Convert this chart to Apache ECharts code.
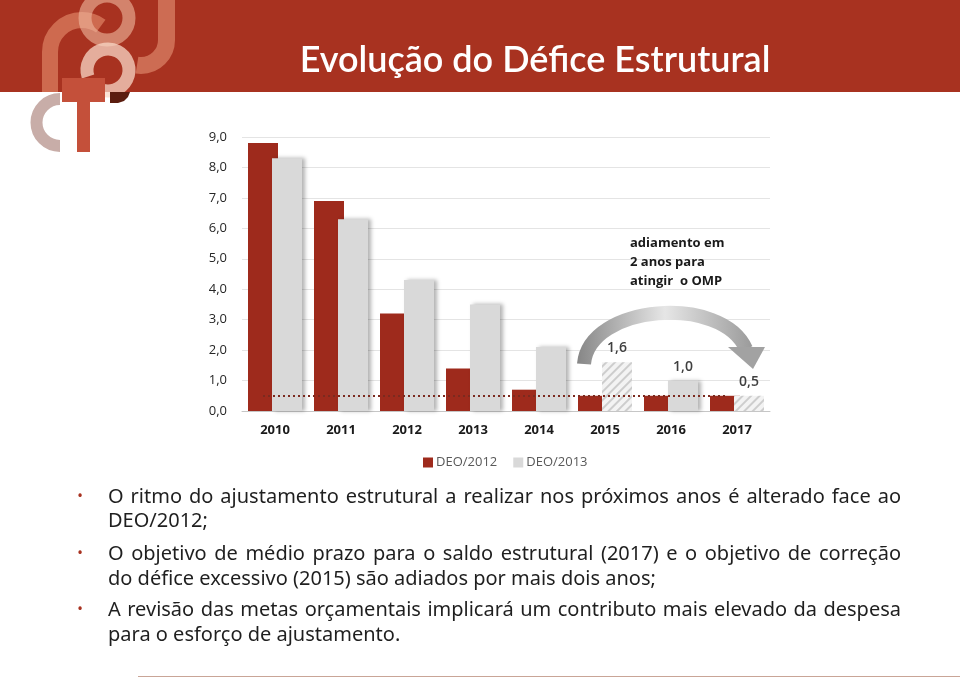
<!DOCTYPE html>
<html>
<head>
<meta charset="utf-8">
<script src="https://cdn.jsdelivr.net/npm/echarts@6/dist/echarts.min.js"></script>
<style>
html,body{margin:0;padding:0;background:#fff;}
#chart{width:960px;height:681px;}
</style>
</head>
<body>
<div id="chart"></div>
<script>
// ---- data ----
const categories = ['2010', '2011', '2012', '2013', '2014', '2015', '2016', '2017'];
const deo2012 = [8.8, 6.9, 3.2, 1.4, 0.7, 0.5, 0.5, 0.5];
const deo2013 = [8.3, 6.3, 4.3, 3.5, 2.1, 1.6, 1.0, 0.5];
const deo2013Projected = [false, false, false, false, false, true, false, true];
const deo2013Labeled = [false, false, false, false, false, true, true, true];
const ompTarget = 0.5;
const yMin = 0, yMax = 9, yStep = 1;
const seriesNames = ['DEO/2012', 'DEO/2013'];
const titleText = 'Evolução do Défice Estrutural';
const noteLines = ['adiamento em', '2 anos para', 'atingir  o OMP'];
const bulletLines = [
  ['O ritmo do ajustamento estrutural a realizar nos próximos anos é alterado face ao', 'DEO/2012;'],
  ['O objetivo de médio prazo para o saldo estrutural (2017) e o objetivo de correção', 'do défice excessivo (2015) são adiados por mais dois anos;'],
  ['A revisão das metas orçamentais implicará um contributo mais elevado da despesa', 'para o esforço de ajustamento.']
];

const fmt = v => v.toFixed(1).replace('.', ',');
const RED = '#9e2a1c';
const GRAY = '#d9d9d9';
const chartFont = "'Open Sans', sans-serif";

const chart = echarts.init(document.getElementById('chart'), null, {renderer: 'canvas'});

const grayData = deo2013.map((v, i) => {
  const item = {value: v};
  if (deo2013Projected[i]) {
    item.itemStyle = {
      color: '#f3f3f3',
      shadowBlur: 0, shadowOffsetX: 0, shadowColor: 'rgba(0,0,0,0)',
      decal: {
        symbol: 'rect', symbolSize: 1,
        dashArrayX: [1, 0], dashArrayY: [1.4, 3.6],
        rotation: -Math.PI / 4, color: '#cdcdcd'
      }
    };
  }
  item.label = {show: deo2013Labeled[i]};
  return item;
});

// graphic elements: header, logo, texts
const graphics = [];
graphics.push({type: 'rect', shape: {x: 0, y: 0, width: 960, height: 92}, style: {fill: '#a83220'}, z: 0});
// logo (approximate)
const arcEl = (cx, cy, r, a0, a1, lw, color) => ({
  type: 'arc', shape: {cx, cy, r, startAngle: a0, endAngle: a1, clockwise: true},
  style: {stroke: color, lineWidth: lw, fill: null, lineCap: 'butt'}, z: 1
});
graphics.push({type: 'rect', shape: {x: 42, y: 52, width: 16, height: 40}, style: {fill: 'rgba(222,130,100,0.7)'}, z: 1});
graphics.push(arcEl(82, 52, 32, Math.PI, Math.PI * 1.7, 16, 'rgba(222,130,100,0.7)'));
graphics.push(arcEl(107, 18, 22, 0, Math.PI * 2, 13, 'rgba(240,185,160,0.6)'));
graphics.push(arcEl(108, 70, 21, Math.PI * 0.9, Math.PI * 2.6, 13, 'rgba(248,215,198,0.75)'));
graphics.push({type: 'rect', shape: {x: 158, y: 0, width: 17, height: 40}, style: {fill: 'rgba(225,140,110,0.65)'}, z: 1});
graphics.push(arcEl(141, 40, 25.5, 0, Math.PI * 0.55, 17, 'rgba(225,140,110,0.65)'));
graphics.push(arcEl(60, 122.5, 23.5, Math.PI * 0.5, Math.PI * 1.5, 12, '#c8ada8'));
graphics.push({type: 'rect', shape: {x: 62, y: 78, width: 43, height: 24}, style: {fill: '#c4503a'}, z: 2});
graphics.push({type: 'rect', shape: {x: 77, y: 78, width: 13, height: 74}, style: {fill: '#c4503a'}, z: 2});
graphics.push({type: 'polygon', shape: {points: [[110, 92], [130, 92], [128, 97], [124, 101], [118, 103], [110, 103]]}, style: {fill: '#5b1d0f'}, z: 2});
// title
graphics.push({type: 'text', x: 535, y: 60, z: 3, style: {
  text: titleText, fill: '#ffffff', font: "600 36px Lato, sans-serif",
  textAlign: 'center', textVerticalAlign: 'middle'
}});
// curved arrow
graphics.push({type: 'bezierCurve', z: 5,
  shape: {x1: 584, y1: 364, cpx1: 589, cpy1: 304, cpx2: 722, cpy2: 294, x2: 746, y2: 349},
  style: {
    stroke: new echarts.graphic.LinearGradient(0, 0, 1, 0, [
      {offset: 0, color: '#868686'}, {offset: 0.5, color: '#e6e6e6'}, {offset: 1, color: '#9a9a9a'}
    ]),
    lineWidth: 14, fill: null, lineCap: 'butt'
  }
});
graphics.push({type: 'polygon', z: 5,
  shape: {points: [[728, 347], [765, 347], [753, 369]]},
  style: {fill: '#a2a2a2'}
});
// annotation
noteLines.forEach((t, i) => graphics.push({type: 'text', x: 630, y: 243 + i * 19, z: 6, style: {
  text: t, fill: '#1a1a1a', font: "bold 13px 'Open Sans', sans-serif", textVerticalAlign: 'middle'
}}));
// bullets (first line of each paragraph justified to the text column edge)
const bodyFont = "20px 'Noto Sans', sans-serif";
const measureCtx = document.createElement('canvas').getContext('2d');
measureCtx.font = bodyFont;
const textLeft = 108, textRight = 901;
const lineYs = [[497, 521], [554, 579], [610, 635]];
bulletLines.forEach((lines, b) => {
  graphics.push({type: 'text', x: 80, y: lineYs[b][0], z: 3, style: {
    text: '•', fill: '#a83220', font: "15px 'Noto Sans', sans-serif", textAlign: 'center', textVerticalAlign: 'middle'
  }});
  lines.forEach((t, i) => {
    if (i < lines.length - 1) {
      const words = t.split(' ');
      const widths = words.map(w => measureCtx.measureText(w).width);
      const total = widths.reduce((a, c) => a + c, 0);
      const gap = (textRight - textLeft - total) / (words.length - 1);
      let x = textLeft;
      words.forEach((w, k) => {
        graphics.push({type: 'text', x: x, y: lineYs[b][i], z: 3, style: {
          text: w, fill: '#1f1f1f', font: bodyFont, textVerticalAlign: 'middle'
        }});
        x += widths[k] + gap;
      });
    } else {
      graphics.push({type: 'text', x: textLeft, y: lineYs[b][i], z: 3, style: {
        text: t, fill: '#1f1f1f', font: bodyFont, textVerticalAlign: 'middle'
      }});
    }
  });
});
graphics.push({type: 'line', shape: {x1: 138, y1: 676.5, x2: 960, y2: 676.5}, style: {stroke: '#c9a597', lineWidth: 1}, z: 1});

const option = {
  animation: false,
  textStyle: {fontFamily: chartFont},
  grid: {left: 242, right: 190, top: 137, bottom: 270, containLabel: false},
  legend: {
    data: seriesNames, left: 418, top: 451, itemWidth: 10, itemHeight: 10, itemGap: 16,
    icon: 'rect',
    textStyle: {fontSize: 13, color: '#595959', fontFamily: chartFont, padding: [0, 0, 0, -2]}
  },
  xAxis: {
    type: 'category', data: categories,
    axisTick: {show: false},
    axisLine: {lineStyle: {color: '#c6c6c6', width: 1}},
    axisLabel: {fontSize: 13, fontWeight: 'bold', color: '#1a1a1a', margin: 13}
  },
  yAxis: {
    type: 'value', min: yMin, max: yMax, interval: yStep,
    axisLabel: {formatter: v => fmt(v), fontSize: 13, color: '#262626', margin: 15},
    splitLine: {lineStyle: {color: '#e4e4e4'}},
    axisLine: {show: false}, axisTick: {show: false}
  },
  series: [
    {
      name: seriesNames[0], type: 'bar', data: deo2012,
      barWidth: 30, barGap: '-20%',
      itemStyle: {color: RED},
      markLine: {
        silent: true, symbol: 'none',
        lineStyle: {color: '#7b2a1f', type: [2, 3], width: 2},
        label: {show: false},
        data: [[{coord: [categories[0], ompTarget]}, {coord: [categories[categories.length - 1], ompTarget]}]]
      },
      z: 2
    },
    {
      name: seriesNames[1], type: 'bar', data: grayData,
      barWidth: 30,
      itemStyle: {color: GRAY, shadowColor: 'rgba(0,0,0,0.3)', shadowBlur: 4, shadowOffsetX: 3},
      label: {
        position: 'top', distance: 7, formatter: p => fmt(p.value),
        fontSize: 14, fontWeight: 600, color: '#404040'
      },
      z: 3
    }
  ],
  graphic: {elements: graphics}
};
chart.setOption(option);
</script>
</body>
</html>
